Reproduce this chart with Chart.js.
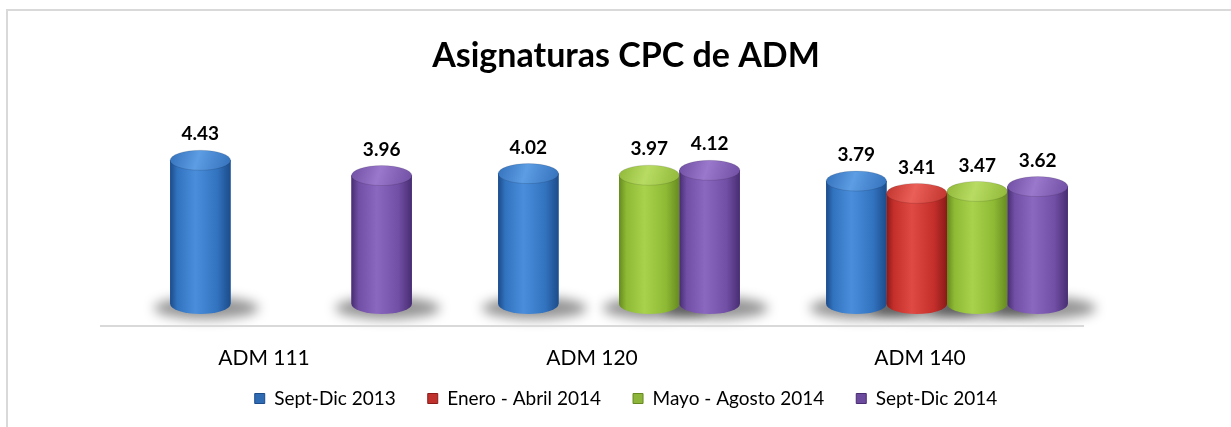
<!DOCTYPE html>
<html><head><meta charset="utf-8">
<style>
html,body{margin:0;padding:0;background:#fff;overflow:hidden;}
#wrap{position:absolute;left:0;top:0;width:1231px;height:427px;overflow:hidden;}
#frame{position:absolute;left:6px;top:9px;width:1400px;height:600px;border:2px solid #d9d9d9;box-sizing:border-box;}
canvas{position:absolute;left:0;top:0;}
</style>
<script src="https://cdn.jsdelivr.net/npm/chart.js"></script>
</head><body><div id="wrap"><div id="frame"></div><canvas id="c" width="1231" height="427"></canvas></div>
<script>
const categories = ['ADM 111', 'ADM 120', 'ADM 140'];
const seriesNames = ['Sept-Dic 2013', 'Enero - Abril 2014', 'Mayo - Agosto 2014', 'Sept-Dic 2014'];
const septDic2013 = [4.43, 4.02, 3.79];
const eneroAbril2014 = [null, null, 3.41];
const mayoAgosto2014 = [null, 3.97, 3.47];
const septDic2014 = [3.96, 4.12, 3.62];
const chartTitle = 'Asignaturas CPC de ADM';

const palettes = [
  {edge:'#1c4c8a', mid:'#3273bf', light:'#4a8edb', capL:'#5c9de3', capE:'#3470bb', legend:'#2f6bb3'},
  {edge:'#8a1b19', mid:'#c52f2b', light:'#e04a44', capL:'#ea5f57', capE:'#c0332e', legend:'#c0312d'},
  {edge:'#668a20', mid:'#8db934', light:'#a9d24c', capL:'#b8dc63', capE:'#8fb737', legend:'#8cb53a'},
  {edge:'#482d72', mid:'#714fa5', light:'#8b68c0', capL:'#9a78cb', capE:'#6f4ea3', legend:'#6c4a9e'}
];
const FONT = 'Lato, "Open Sans", sans-serif';
const CAP_RY = 10;
const SHIFT = -27;

function bars(chart){
  const list = [];
  chart.data.datasets.forEach((ds, di) => {
    const meta = chart.getDatasetMeta(di);
    if (meta.hidden) return;
    meta.data.forEach((el, i) => {
      if (ds.data[i] === null || ds.data[i] === undefined) return;
      list.push({el, pal: palettes[di], v: ds.data[i]});
    });
  });
  list.sort((a, b) => a.el.x - b.el.x);
  return list;
}

const cylPlugin = {
  id: 'cyl',
  beforeDatasetsDraw(chart){
    const ctx = chart.ctx;
    ctx.save();
    ctx.filter = 'blur(6px)';
    ctx.fillStyle = 'rgba(0,0,0,0.42)';
    bars(chart).forEach(({el}) => {
      ctx.beginPath();
      ctx.ellipse(el.x + 6, el.base + 4, el.width / 2 + 22, 11, 0, 0, Math.PI * 2);
      ctx.fill();
    });
    ctx.restore();
  },
  afterDatasetsDraw(chart){
    const ctx = chart.ctx;
    ctx.save();
    bars(chart).forEach(({el, pal}) => {
      const w = el.width, cx = el.x, x0 = cx - w / 2, x1 = cx + w / 2, rx = w / 2;
      const top = el.y, base = el.base;
      const g = ctx.createLinearGradient(x0, 0, x1, 0);
      g.addColorStop(0, pal.edge); g.addColorStop(0.12, pal.mid); g.addColorStop(0.42, pal.light);
      g.addColorStop(0.78, pal.mid); g.addColorStop(1, pal.edge);
      ctx.fillStyle = g;
      ctx.beginPath();
      ctx.moveTo(x0, top);
      ctx.lineTo(x0, base);
      ctx.ellipse(cx, base, rx, CAP_RY, 0, Math.PI, 0, true);
      ctx.lineTo(x1, top);
      ctx.closePath();
      ctx.fill();
      const cg = ctx.createLinearGradient(x0, top - CAP_RY, x1, top + CAP_RY);
      cg.addColorStop(0, pal.capE); cg.addColorStop(0.45, pal.capL); cg.addColorStop(1, pal.capE);
      ctx.fillStyle = cg;
      ctx.beginPath();
      ctx.ellipse(cx, top, rx, CAP_RY, 0, 0, Math.PI * 2);
      ctx.fill();
      ctx.strokeStyle = 'rgba(0,0,0,0.12)';
      ctx.lineWidth = 1;
      ctx.stroke();
    });
    ctx.fillStyle = '#000';
    ctx.font = 'bold 19px ' + FONT;
    ctx.textAlign = 'center';
    ctx.textBaseline = 'middle';
    bars(chart).forEach(({el, v}) => {
      ctx.fillText(v.toFixed(2), el.x, el.y - CAP_RY - 16);
    });
    ctx.restore();
  },
  afterDraw(chart){
    const ctx = chart.ctx, a = chart.chartArea, xs = chart.scales.x;
    ctx.save();
    ctx.strokeStyle = '#d9d9d9';
    ctx.lineWidth = 2;
    ctx.beginPath();
    ctx.moveTo(a.left + SHIFT, a.bottom + 22);
    ctx.lineTo(a.right + SHIFT, a.bottom + 22);
    ctx.stroke();
    ctx.fillStyle = '#000';
    ctx.font = '21px ' + FONT;
    ctx.textAlign = 'center';
    ctx.textBaseline = 'middle';
    categories.forEach((c, i) => {
      ctx.fillText(c, xs.getPixelForTick(i) + SHIFT, a.bottom + 54);
    });
    ctx.restore();
  }
};

const seriesData = [septDic2013, eneroAbril2014, mayoAgosto2014, septDic2014];

new Chart(document.getElementById('c'), {
  type: 'bar',
  data: {
    labels: categories,
    datasets: seriesData.map((d, i) => ({
      label: seriesNames[i],
      data: d,
      backgroundColor: palettes[i].mid,
      borderWidth: 0,
      barPercentage: 1.0,
      categoryPercentage: 0.737
    }))
  },
  options: {
    responsive: false,
    animation: false,
    devicePixelRatio: 1,
    layout: {padding: {left: 127, right: 106, top: 0, bottom: 9}},
    scales: {
      y: {
        display: true, position: 'right', min: 0, max: 5,
        grid: {display: false, drawTicks: false}, border: {display: false},
        ticks: {display: false},
        afterFit: (s) => { s.width = 14; }
      },
      x: {
        grid: {display: false, drawTicks: false},
        border: {display: false},
        ticks: {display: false},
        afterFit: (s) => { s.height = 53; }
      }
    },
    plugins: {
      title: {display: true, text: chartTitle, color: '#000', font: {family: FONT, size: 34, weight: 'bold'}, padding: {top: 36, bottom: 65}},
      legend: {
        position: 'bottom',
        labels: {
          color: '#000',
          font: {family: FONT, size: 19},
          boxWidth: 10, boxHeight: 10,
          padding: 32,
          generateLabels: (chart) => chart.data.datasets.map((ds, i) => ({
            text: ds.label, fillStyle: palettes[i].legend, strokeStyle: palettes[i].edge, lineWidth: 1,
            hidden: false, datasetIndex: i, fontColor: '#000'
          }))
        }
      },
      tooltip: {enabled: false}
    }
  },
  plugins: [cylPlugin]
});
</script>
</body></html>
